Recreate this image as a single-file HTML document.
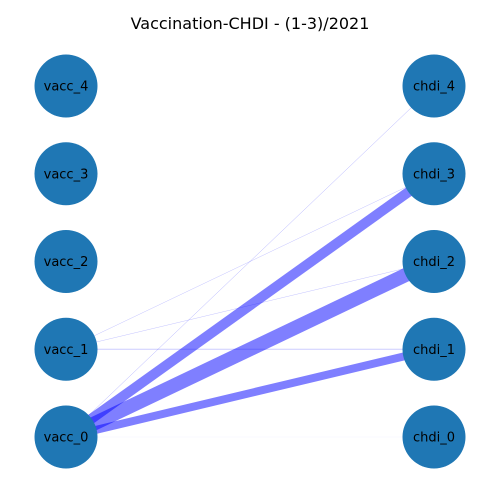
<!DOCTYPE html>
<html><head><meta charset="utf-8"><style>
body{margin:0;background:#fff}
svg{display:block}
text{font-family:"DejaVu Sans","Liberation Sans",sans-serif}
</style></head><body>
<svg id="chart" width="500" height="500" viewBox="0 0 500 500" xmlns="http://www.w3.org/2000/svg">
<text x="250" y="29" text-anchor="middle" font-size="16">Vaccination-CHDI - (1-3)/2021</text>
<g id="edges"></g>
<g id="nodes"></g>
</svg>
<script>
const leftNodes = ["vacc_0","vacc_1","vacc_2","vacc_3","vacc_4"];
const rightNodes = ["chdi_0","chdi_1","chdi_2","chdi_3","chdi_4"];
const edgeSource = [0,0,0,0,0,1,1,1];
const edgeTarget = [3,2,1,4,0,3,2,1];
const edgeWeight = [10,14,8,0.5,0.3,0.4,0.4,1];
const edgeAlpha = [0.5,0.5,0.5,0.3,0.1,0.3,0.3,0.2];

const NS="http://www.w3.org/2000/svg";
const xLeft=66, xRight=434;
function yPos(i){ return 437 - i*87.75; }
const eg=document.getElementById('edges'), ng=document.getElementById('nodes');
for(let k=0;k<edgeSource.length;k++){
  const l=document.createElementNS(NS,'line');
  l.setAttribute('x1',xLeft); l.setAttribute('y1',yPos(edgeSource[k]));
  l.setAttribute('x2',xRight); l.setAttribute('y2',yPos(edgeTarget[k]));
  l.setAttribute('stroke','#0000ff');
  l.setAttribute('stroke-opacity',edgeAlpha[k]);
  l.setAttribute('stroke-width',edgeWeight[k]);
  
  
  eg.appendChild(l);
}
function addNode(name,x,y){
  const g=document.createElementNS(NS,'g');
  
  
  const c=document.createElementNS(NS,'circle');
  c.setAttribute('cx',x); c.setAttribute('cy',y); c.setAttribute('r',31.5);
  c.setAttribute('fill','#1f77b4');
  
  
  const t=document.createElementNS(NS,'text');
  t.setAttribute('x',x); t.setAttribute('y',y+4.5);
  t.setAttribute('text-anchor','middle'); t.setAttribute('font-size','13');
  
  
  t.textContent=name;
  g.appendChild(c); g.appendChild(t); ng.appendChild(g);
}
leftNodes.forEach((n,i)=>addNode(n,xLeft,yPos(i)));
rightNodes.forEach((n,i)=>addNode(n,xRight,yPos(i)));
</script>
</body></html>
